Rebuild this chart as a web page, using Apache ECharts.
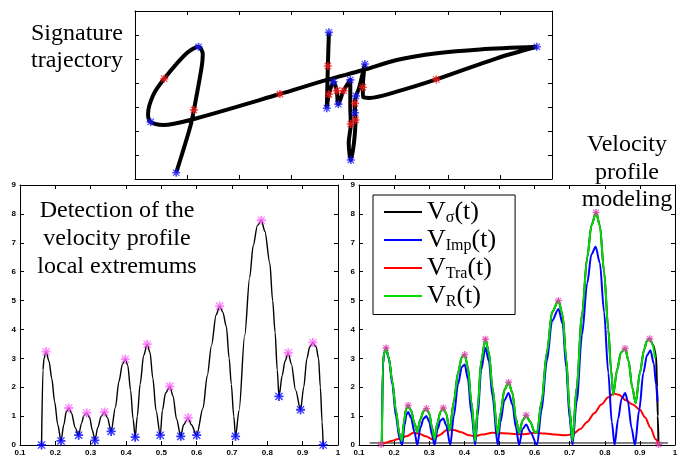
<!DOCTYPE html>
<html>
<head>
<meta charset="utf-8">
<script src="https://cdn.jsdelivr.net/npm/echarts@6/dist/echarts.min.js"></script>
<style>
    html, body { margin: 0; padding: 0; background: #fff; }
    #main { width: 682px; height: 457px; }
</style>
</head>
<body>
<div id="main"></div>
<script>
// signature trajectory (pen order), x / y in plot units
var sigPath = [
    [0.79, 0.26], [1.06, 2.18], [1.13, 2.88], [1.28, 4.68], [1.30, 5.20], [1.22, 5.51],
    [0.99, 5.24], [0.56, 4.18], [0.35, 3.50], [0.25, 2.70], [0.30, 2.38], [0.54, 2.25],
    [1.06, 2.46], [2.78, 3.54], [3.68, 4.13], [4.38, 4.54], [5.02, 4.96], [5.79, 5.24],
    [6.62, 5.40], [7.71, 5.51], [6.94, 5.03], [5.78, 4.15], [5.02, 3.64], [4.50, 3.38],
    [4.38, 3.40], [4.37, 3.82], [4.41, 4.79], [4.30, 3.80], [4.24, 3.46], [4.22, 3.15],
    [4.22, 2.76], [4.23, 2.46], [4.20, 1.50], [4.14, 0.79], [4.10, 1.50], [4.14, 2.29],
    [4.13, 3.00], [4.13, 4.13], [4.00, 3.68], [3.90, 3.12], [3.87, 3.68], [3.81, 4.05],
    [3.72, 3.53], [3.68, 2.95], [3.70, 4.71], [3.72, 6.11]
];
var sigBlue = [
    [0.79, 0.26], [1.22, 5.51], [0.30, 2.38], [7.71, 5.51], [3.72, 6.11], [3.68, 2.95],
    [3.81, 4.05], [3.90, 3.12], [4.13, 4.13], [4.41, 4.79], [4.24, 3.46], [4.22, 2.76],
    [4.14, 0.79]
];
var sigRed = [
    [1.13, 2.88], [0.56, 4.18], [2.78, 3.54], [5.78, 4.15], [3.70, 4.71], [3.72, 3.53],
    [3.87, 3.68], [4.00, 3.68], [4.37, 3.82], [4.22, 3.15], [4.14, 2.29], [4.23, 2.46]
];

// left plot: velocity profile
var profile = [
    [0.161, 0], [0.165, 2.6], [0.168, 3.0], [0.174, 3.23], [0.182, 2.9], [0.190, 2.3], [0.198, 1.5], [0.207, 0.7], [0.216, 0.14],
    [0.224, 0.7], [0.231, 1.15], [0.238, 1.28], [0.246, 1.1], [0.256, 0.6], [0.266, 0.34],
    [0.274, 0.75], [0.281, 1.02], [0.289, 1.11], [0.297, 0.95], [0.305, 0.5], [0.312, 0.16],
    [0.320, 0.6], [0.330, 1.0], [0.339, 1.14], [0.347, 0.95], [0.358, 0.47],
    [0.370, 1.3], [0.380, 2.2], [0.390, 2.8], [0.398, 2.97], [0.405, 2.75], [0.413, 1.9], [0.420, 0.9], [0.426, 0.27],
    [0.432, 1.0], [0.440, 2.1], [0.450, 3.1], [0.460, 3.49], [0.468, 3.2], [0.476, 2.3], [0.485, 1.2], [0.497, 0.34],
    [0.503, 1.2], [0.512, 1.8], [0.524, 2.03], [0.533, 1.7], [0.543, 0.9], [0.555, 0.30],
    [0.563, 0.7], [0.576, 0.94], [0.585, 0.7], [0.600, 0.34],
    [0.618, 1.28], [0.630, 2.4], [0.642, 3.45], [0.655, 4.5], [0.665, 4.81], [0.674, 4.6], [0.684, 4.1], [0.692, 3.0], [0.698, 2.1], [0.705, 1.0], [0.710, 0.30],
    [0.720, 1.2], [0.736, 3.8], [0.750, 5.8], [0.760, 6.9], [0.772, 7.6], [0.783, 7.78], [0.793, 7.4], [0.807, 6.3], [0.815, 5.0], [0.822, 3.9], [0.828, 2.6], [0.833, 1.68],
    [0.842, 2.4], [0.850, 2.9], [0.859, 3.19], [0.868, 2.8], [0.880, 1.9], [0.894, 1.22],
    [0.903, 2.0], [0.912, 3.0], [0.920, 3.4], [0.929, 3.55], [0.938, 3.4], [0.945, 3.0], [0.950, 2.0], [0.955, 0.8], [0.958, 0]
];
var profileMax = [
    [0.174, 3.23], [0.238, 1.28], [0.289, 1.11], [0.339, 1.14], [0.398, 2.97], [0.460, 3.49],
    [0.524, 2.03], [0.576, 0.94], [0.665, 4.81], [0.783, 7.78], [0.859, 3.19], [0.929, 3.55]
];
var profileMin = [
    [0.161, 0], [0.216, 0.14], [0.266, 0.34], [0.312, 0.16], [0.358, 0.47], [0.426, 0.27],
    [0.497, 0.34], [0.555, 0.30], [0.600, 0.34], [0.710, 0.30], [0.833, 1.68], [0.894, 1.22],
    [0.958, 0]
];

// right plot: modeled components
var vSigma = [
    [0.165, 0], [0.168, 2.8], [0.172, 3.2], [0.177, 3.36], [0.185, 3.0], [0.195, 2.2], [0.205, 1.2], [0.215, 0.4], [0.222, 0.14],
    [0.228, 0.8], [0.234, 1.25], [0.240, 1.37], [0.248, 1.2], [0.258, 0.75], [0.266, 0.45],
    [0.275, 0.9], [0.284, 1.18], [0.292, 1.26], [0.300, 1.1], [0.308, 0.6], [0.315, 0.2],
    [0.323, 0.75], [0.332, 1.15], [0.340, 1.28], [0.348, 1.1], [0.358, 0.5],
    [0.370, 1.5], [0.382, 2.5], [0.393, 3.05], [0.401, 3.13], [0.410, 2.7], [0.420, 1.5], [0.431, 0.14],
    [0.438, 1.3], [0.448, 2.9], [0.460, 3.66], [0.470, 3.2], [0.480, 2.0], [0.495, 0.37],
    [0.503, 1.1], [0.514, 1.9], [0.526, 2.17], [0.537, 1.8], [0.547, 0.9], [0.556, 0.42],
    [0.566, 0.85], [0.576, 1.03], [0.588, 0.8], [0.600, 0.45], [0.607, 0.42],
    [0.620, 1.5], [0.635, 3.2], [0.650, 4.6], [0.668, 5.0], [0.680, 4.5], [0.690, 3.0], [0.700, 1.2], [0.708, 0.14],
    [0.720, 2.0], [0.735, 4.5], [0.750, 6.5], [0.762, 7.6], [0.775, 8.05], [0.786, 7.6], [0.798, 6.0], [0.810, 4.0], [0.818, 2.6], [0.824, 1.74],
    [0.835, 2.6], [0.846, 3.2], [0.858, 3.34], [0.868, 2.9], [0.878, 2.0], [0.888, 1.45],
    [0.900, 2.5], [0.912, 3.3], [0.920, 3.6], [0.928, 3.68], [0.938, 3.45], [0.946, 3.1], [0.949, 2.0], [0.951, 1.0], [0.953, 0]
];
var vImp = [
    [0.165, 0], [0.168, 2.8], [0.172, 3.2], [0.177, 3.36], [0.185, 3.0], [0.195, 2.1], [0.205, 1.0], [0.215, 0.25], [0.223, 0],
    [0.230, 0.7], [0.235, 1.05], [0.240, 1.14], [0.248, 0.95], [0.258, 0.45], [0.266, 0],
    [0.275, 0.6], [0.284, 0.92], [0.292, 1.0], [0.300, 0.8], [0.308, 0.35], [0.315, 0],
    [0.324, 0.55], [0.332, 0.85], [0.340, 0.92], [0.348, 0.7], [0.360, 0],
    [0.370, 1.0], [0.382, 2.1], [0.393, 2.7], [0.401, 2.79], [0.410, 2.3], [0.420, 1.1], [0.431, 0],
    [0.438, 1.0], [0.448, 2.6], [0.460, 3.36], [0.470, 2.9], [0.480, 1.7], [0.495, 0],
    [0.503, 0.8], [0.514, 1.55], [0.526, 1.8], [0.537, 1.4], [0.547, 0.6], [0.556, 0],
    [0.566, 0.55], [0.576, 0.71], [0.588, 0.45], [0.607, 0],
    [0.620, 1.2], [0.635, 2.9], [0.650, 4.3], [0.668, 4.71], [0.680, 4.2], [0.690, 2.7], [0.700, 0.9], [0.708, 0],
    [0.720, 1.5], [0.735, 3.8], [0.750, 5.6], [0.762, 6.6], [0.774, 6.86], [0.786, 6.3], [0.798, 4.6], [0.810, 2.5], [0.820, 0.8], [0.828, 0],
    [0.838, 0.9], [0.848, 1.6], [0.858, 1.8], [0.866, 1.5], [0.876, 0.6], [0.886, 0],
    [0.898, 1.2], [0.910, 2.5], [0.920, 3.1], [0.930, 3.28], [0.940, 2.8], [0.946, 2.1], [0.950, 1.5]
];
var vTra = [
    [0.160, 0.05], [0.175, 0.08], [0.195, 0.15], [0.215, 0.22], [0.235, 0.30], [0.255, 0.42], [0.270, 0.40],
    [0.290, 0.30], [0.310, 0.20], [0.330, 0.35], [0.350, 0.52], [0.370, 0.52], [0.390, 0.45], [0.410, 0.35],
    [0.430, 0.30], [0.450, 0.36], [0.480, 0.42], [0.510, 0.41], [0.540, 0.38], [0.570, 0.37], [0.600, 0.42],
    [0.630, 0.40], [0.660, 0.36], [0.690, 0.34], [0.710, 0.38], [0.730, 0.55], [0.750, 0.80], [0.770, 1.10],
    [0.790, 1.40], [0.810, 1.65], [0.825, 1.78], [0.840, 1.74], [0.860, 1.55], [0.880, 1.40], [0.900, 1.22],
    [0.915, 0.95], [0.930, 0.60], [0.945, 0.20], [0.953, 0.03]
];
var vR = [
    [0.165, 0], [0.168, 2.8], [0.172, 3.2], [0.177, 3.36], [0.185, 3.0], [0.195, 2.2], [0.205, 1.2], [0.215, 0.4], [0.222, 0.14],
    [0.228, 0.8], [0.234, 1.25], [0.240, 1.37], [0.248, 1.2], [0.258, 0.75], [0.266, 0.45],
    [0.275, 0.9], [0.284, 1.18], [0.292, 1.26], [0.300, 1.1], [0.308, 0.6], [0.315, 0.2],
    [0.323, 0.75], [0.332, 1.15], [0.340, 1.28], [0.348, 1.1], [0.358, 0.5],
    [0.370, 1.5], [0.382, 2.5], [0.393, 3.05], [0.401, 3.13], [0.410, 2.7], [0.420, 1.5], [0.431, 0.14],
    [0.438, 1.3], [0.448, 2.9], [0.460, 3.66], [0.470, 3.2], [0.480, 2.0], [0.495, 0.37],
    [0.503, 1.1], [0.514, 1.9], [0.526, 2.17], [0.537, 1.8], [0.547, 0.9], [0.556, 0.42],
    [0.566, 0.85], [0.576, 1.03], [0.588, 0.8], [0.600, 0.45], [0.607, 0.42],
    [0.620, 1.5], [0.635, 3.2], [0.650, 4.6], [0.668, 5.0], [0.680, 4.5], [0.690, 3.0], [0.700, 1.2], [0.708, 0.14],
    [0.720, 2.0], [0.735, 4.5], [0.750, 6.5], [0.762, 7.6], [0.775, 8.05], [0.786, 7.6], [0.798, 6.0], [0.810, 4.0], [0.818, 2.6], [0.824, 1.74],
    [0.835, 2.6], [0.846, 3.2], [0.858, 3.34], [0.868, 2.9], [0.878, 2.0], [0.888, 1.45],
    [0.900, 2.5], [0.912, 3.3], [0.920, 3.6], [0.928, 3.68], [0.936, 3.5], [0.943, 3.0]
];
var modelPeaks = [
    [0.163, 0.02], [0.177, 3.36], [0.240, 1.37], [0.292, 1.26], [0.340, 1.28], [0.401, 3.13], [0.460, 3.66],
    [0.526, 2.17], [0.576, 1.03], [0.668, 5.0], [0.775, 8.05], [0.858, 3.34], [0.928, 3.68], [0.953, 0.02]
];
var baseLine = [[0.13, 0.07], [0.98, 0.07]];

// legend names
var legendNames = ['sigma', 'imp', 'tra', 'r'];
var legendSub = { sigma: 'σ', imp: 'Imp', tra: 'Tra', r: 'R' };

var chart = echarts.init(document.getElementById('main'));

var serif = '"Liberation Serif", "Times New Roman", serif';
var star = 'path://M4,0H6V4H10V6H6V10H4V6H0V4H4Z M1.5,0.5L9.5,8.5L8.5,9.5L0.5,1.5Z M8.5,0.5L9.5,1.5L1.5,9.5L0.5,8.5Z';

// box axes for one grid (MATLAB style, ticks inside on 4 sides)
var xAxes = [];
var yAxes = [];
function boxAxes(grid, xmin, xmax, xint, ymin, ymax, yint, labels) {
    var line = { show: true, onZero: false, lineStyle: { color: '#000', width: 1 } };
    var tick = { show: true, inside: true, length: 4, lineStyle: { color: '#000' } };
    var lab = {
        show: labels, color: '#000', fontSize: 8, fontWeight: 'bold',
        fontFamily: '"Liberation Sans", Arial, sans-serif', margin: 4
    };
    ['bottom', 'top'].forEach(function (pos, i) {
        xAxes.push({
            type: 'value', gridIndex: grid, position: pos, min: xmin, max: xmax, interval: xint,
            axisLine: line, axisTick: tick, splitLine: { show: false },
            axisLabel: i === 0 ? lab : { show: false }
        });
    });
    ['left', 'right'].forEach(function (pos, i) {
        yAxes.push({
            type: 'value', gridIndex: grid, position: pos, min: ymin, max: ymax, interval: yint,
            axisLine: line, axisTick: tick, splitLine: { show: false },
            axisLabel: i === 0 ? lab : { show: false }
        });
    });
}
boxAxes(0, 0, 8, 1, 0, 7, 1, false);
boxAxes(1, 0.1, 1, 0.1, 0, 9, 1, true);
boxAxes(2, 0.1, 1, 0.1, 0, 9, 1, true);

function lineSeries(name, data, axis, color, width, z) {
    return {
        name: name, type: 'line', data: data, xAxisIndex: axis * 2, yAxisIndex: axis * 2,
        showSymbol: false, smooth: 0.3, smoothMonotone: axis === 0 ? undefined : 'x',
        lineStyle: { color: color, width: width }, itemStyle: { color: color },
        silent: true, animation: false, z: z
    };
}
function starSeries(data, axis, color, size) {
    return {
        type: 'scatter', data: data, xAxisIndex: axis * 2, yAxisIndex: axis * 2,
        symbol: star, symbolSize: size, itemStyle: { color: color },
        silent: true, animation: false, z: 10
    };
}

var option = {
    backgroundColor: '#fff',
    animation: false,
    grid: [
        { left: 135, top: 11, width: 417, height: 168 },
        { left: 20, top: 185, width: 318, height: 263 },
        { left: 359, top: 185, width: 316, height: 263 }
    ],
    xAxis: xAxes,
    yAxis: yAxes,
    legend: {
        data: legendNames,
        orient: 'vertical',
        left: 373, top: 195,
        padding: [4, 19, 5, 11],
        itemGap: 1.5,
        itemWidth: 38, itemHeight: 2,
        icon: 'rect',
        borderColor: '#000', borderWidth: 1,
        backgroundColor: '#fff',
        selectedMode: false,
        formatter: function (name) {
            return '{v|V}{s|' + legendSub[name] + '}{v|(t)}';
        },
        textStyle: {
            rich: {
                v: { fontFamily: serif, fontSize: 26, lineHeight: 27, color: '#000' },
                s: { fontFamily: serif, fontSize: 16, lineHeight: 15, verticalAlign: 'bottom', color: '#000' }
            }
        }
    },
    graphic: [
        { type: 'text', x: 77, y: 20, style: { text: 'Signature\ntrajectory', font: '24px ' + serif, textAlign: 'center', lineHeight: 27, fill: '#000' } },
        { type: 'text', x: 117, y: 197, style: { text: 'Detection of the\nvelocity profile\nlocal extremums', font: '24px ' + serif, textAlign: 'center', lineHeight: 28, fill: '#000' } },
        { type: 'text', x: 627, y: 131, z: 100, style: { text: 'Velocity\nprofile\nmodeling', font: '24px ' + serif, textAlign: 'center', lineHeight: 27.5, fill: '#000' } }
    ],
    series: [
        // signature
        lineSeries('sig', sigPath, 0, '#000', 4, 2),
        starSeries(sigBlue, 0, '#1a1aff', 8),
        starSeries(sigRed, 0, '#ff1a1a', 8),
        // velocity profile extremums
        lineSeries('profile', profile, 1, '#000', 1.4, 2),
        starSeries(profileMax, 1, '#ff66ff', 9),
        starSeries(profileMin, 1, '#0000ff', 9),
        // modeling
        lineSeries('base', baseLine, 2, '#000', 1, 1),
        lineSeries('sigma', vSigma, 2, '#000', 2, 2),
        lineSeries('tra', vTra, 2, '#ff0000', 2, 3),
        lineSeries('imp', vImp, 2, '#0000ff', 2, 4),
        lineSeries('r', vR, 2, '#00dd00', 2, 5),
        starSeries(modelPeaks, 2, '#e040b0', 7)
    ]
};
chart.setOption(option);
</script>
</body>
</html>
